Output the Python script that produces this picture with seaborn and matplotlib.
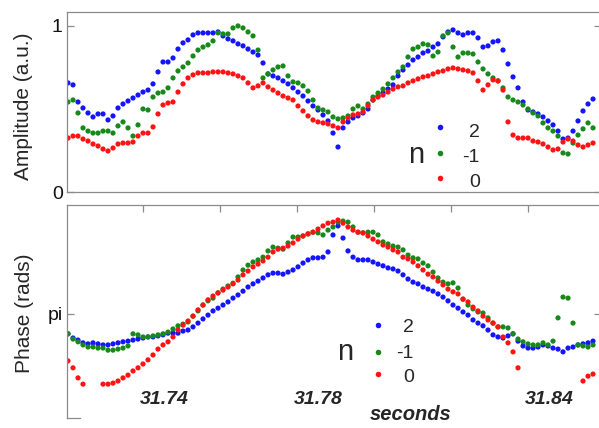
import numpy as np
import pandas as pd
import matplotlib
matplotlib.use("Agg")
import matplotlib.pyplot as plt
import seaborn as sns

sns.set_style("white")
plt.rcParams['font.family'] = ['Liberation Sans', 'DejaVu Sans']

# ---------------- data ----------------
# sampling grid (seconds)
time_s = np.round(31.71507 + 0.0012987 * np.arange(106), 6)

series_labels = ['2', '-1', '0']

amp_n2 = [0.657,0.645,0.542,0.506,0.476,0.452,0.470,0.470,0.434,0.458,
          0.506,0.530,0.548,0.566,0.584,0.602,0.614,0.651,0.723,0.783,
          0.783,0.807,0.861,0.898,0.916,0.946,0.958,0.958,0.958,0.958,
          0.964,0.940,0.922,0.910,0.892,0.880,0.861,0.843,0.825,0.777,
          0.711,0.699,0.687,0.669,0.651,0.627,0.602,0.578,0.548,0.518,
          0.494,0.464,0.428,0.355,0.271,0.386,0.422,0.446,0.458,0.476,
          0.500,0.554,0.578,0.596,0.620,0.645,0.699,0.735,0.765,0.795,
          0.813,0.837,0.849,0.873,0.892,0.934,0.964,0.976,0.958,0.946,
          0.958,0.958,0.928,0.873,0.880,0.904,0.910,0.855,0.771,0.693,
          0.627,0.542,0.494,0.482,0.470,0.452,0.428,0.404,0.367,0.319,
          0.325,0.367,0.428,0.488,0.530,0.560]

amp_nm1 = [0.542,0.554,0.476,0.386,0.367,0.355,0.355,0.367,0.367,0.355,
           0.398,0.422,0.386,0.337,0.404,0.500,0.494,0.572,0.596,0.602,
           0.627,0.687,0.729,0.753,0.777,0.819,0.855,0.873,0.886,0.910,
           0.958,0.952,0.952,0.988,1.000,0.988,0.964,0.940,0.855,0.687,
           0.711,0.735,0.753,0.759,0.699,0.663,0.657,0.639,0.608,0.554,
           0.506,0.494,0.482,0.452,0.440,0.446,0.458,0.500,0.518,0.500,
           0.530,0.572,0.596,0.620,0.651,0.687,0.723,0.753,0.813,0.861,
           0.873,0.892,0.886,0.819,0.843,0.940,0.958,0.873,0.813,0.837,
           0.837,0.831,0.783,0.741,0.711,0.687,0.669,0.627,0.572,0.554,
           0.542,0.524,0.500,0.476,0.458,0.416,0.386,0.367,0.337,0.235,
           0.229,0.295,0.343,0.380,0.416,0.386]

amp_n0 = [0.325,0.337,0.337,0.319,0.307,0.289,0.277,0.259,0.247,0.265,
          0.289,0.295,0.295,0.301,0.337,0.355,0.355,0.392,0.470,0.524,
          0.536,0.542,0.602,0.651,0.687,0.705,0.717,0.717,0.717,0.723,
          0.723,0.723,0.717,0.711,0.699,0.687,0.657,0.627,0.639,0.657,
          0.633,0.614,0.596,0.578,0.566,0.554,0.518,0.488,0.458,0.434,
          0.422,0.416,0.410,0.398,0.386,0.422,0.446,0.464,0.470,0.482,
          0.518,0.554,0.572,0.584,0.602,0.620,0.633,0.639,0.657,0.669,
          0.681,0.693,0.699,0.711,0.723,0.729,0.741,0.747,0.741,0.735,
          0.729,0.717,0.669,0.614,0.645,0.675,0.669,0.614,0.422,0.343,
          0.325,0.325,0.325,0.307,0.301,0.289,0.271,0.253,0.259,0.301,
          0.319,0.307,0.283,0.271,0.283,0.295]

nan = np.nan
phase_n2 = [2.57,2.45,2.39,2.31,2.28,2.31,2.28,2.25,2.25,2.28,
            2.31,2.34,2.36,2.39,2.42,2.45,2.48,2.48,2.51,2.54,
            2.59,2.59,2.59,2.65,2.68,2.77,2.88,3.00,3.11,3.23,
            3.31,3.40,3.49,3.60,3.69,3.80,3.92,4.01,4.09,4.18,
            4.27,4.32,4.32,4.29,4.35,4.41,4.50,4.61,4.70,4.76,
            4.76,4.78,4.93,5.42,5.68,5.33,4.96,4.78,4.70,4.70,
            4.70,4.64,4.58,4.53,4.47,4.44,4.38,4.27,4.15,4.06,
            4.01,3.92,3.86,3.80,3.72,3.63,3.52,3.40,3.31,3.20,
            3.11,2.97,2.88,2.80,2.68,2.54,2.48,2.45,2.51,2.57,
            2.36,2.22,2.16,2.16,2.19,2.25,2.22,2.16,2.13,2.05,
            2.16,2.19,2.25,2.28,2.31,2.36]

phase_nm1 = [2.57,2.42,2.34,2.25,2.19,2.19,2.16,2.16,2.10,2.10,
             2.13,2.16,2.22,2.57,2.54,2.48,2.48,2.51,2.54,2.57,
             2.62,2.71,2.80,2.85,2.91,3.08,3.23,3.40,3.52,3.60,
             3.75,3.86,3.95,4.03,4.21,4.41,4.55,4.64,4.70,4.78,
             4.96,5.07,5.04,5.01,5.19,5.36,5.36,5.39,5.45,5.50,
             5.48,5.42,5.56,5.65,5.79,5.82,5.79,5.65,5.50,5.48,
             5.50,5.50,5.42,5.22,5.16,5.10,5.07,4.99,4.84,4.76,
             4.73,4.61,4.53,4.35,4.18,4.06,4.01,4.04,3.89,3.57,
             3.40,3.29,3.20,3.17,3.03,2.88,2.77,2.77,2.74,2.57,
             2.42,2.34,2.28,2.25,2.25,2.31,2.25,2.36,3.03,3.63,
             3.60,2.88,2.25,2.22,2.19,2.25]

phase_n0 = [1.79,1.59,1.30,1.12,nan,nan,nan,1.12,1.12,1.15,
            1.21,1.30,1.38,1.50,1.59,1.70,1.82,1.96,2.13,2.25,
            2.34,2.48,2.68,2.82,2.94,3.08,3.26,3.40,3.55,3.66,
            3.75,3.83,3.92,4.01,4.12,4.27,4.38,4.50,4.58,4.67,
            4.78,4.93,5.01,5.04,5.10,5.19,5.30,5.39,5.45,5.50,
            5.59,5.68,5.76,5.79,5.85,5.76,5.65,5.56,5.50,5.48,
            5.39,5.30,5.22,5.13,5.07,4.99,4.93,4.78,4.73,4.64,
            4.53,4.41,4.29,4.21,4.09,3.98,3.86,3.78,3.72,3.57,
            3.49,3.34,3.23,3.08,2.97,2.88,2.77,2.48,2.31,2.05,
            1.59,nan,nan,nan,nan,nan,nan,nan,nan,nan,
            nan,nan,nan,1.21,1.35,1.41]

xtick_positions = [31.7346, 31.7546, 31.7746, 31.7946, 31.8146, 31.8346]
xlabel_values = [31.74, 31.78, 31.84]
xlabel_texts = ['31.74', '31.78', '31.84']

colors = {'2': '#1414ff', '-1': '#17891a', '0': '#ff1212'}

frames = []
for lab, a, p in zip(series_labels, [amp_n2, amp_nm1, amp_n0],
                     [phase_n2, phase_nm1, phase_n0]):
    frames.append(pd.DataFrame({'time': time_s, 'amplitude': a,
                                'phase': p, 'n': lab}))
df = pd.concat(frames, ignore_index=True)

# ---------------- figure ----------------
W, H = 599, 428
fig = plt.figure(figsize=(W / 100, H / 100), dpi=100)
ax1 = fig.add_axes([67 / W, 1 - 192 / H, 534 / W, 180 / H])
ax2 = fig.add_axes([67 / W, 1 - 418 / H, 534 / W, 213 / H])

gray = '#8a8a8a'
kw = dict(hue='n', hue_order=series_labels, palette=colors, s=14,
          linewidth=0, legend=False)
sns.scatterplot(data=df, x='time', y='amplitude', ax=ax1, **kw)
sns.scatterplot(data=df.dropna(subset=['phase']), x='time', y='phase',
                ax=ax2, **kw)

xlim = (31.71481, 31.85351)
for ax in (ax1, ax2):
    ax.set_xlim(*xlim)
    for sp in ax.spines.values():
        sp.set_color(gray)
        sp.set_linewidth(0.9)
    ax.set_xlabel('')

ax1.set_ylim(0, 1.084)
ax2.set_ylim(0.144, 2 * np.pi)

# top panel ticks
ax1.set_xticks([])
ax1.set_yticks([0, 1])
ax1.set_yticklabels(['0', '1'])
ax1.tick_params(axis='y', direction='in', length=5, width=0.9, color=gray,
                left=True, right=True, labelsize=14, pad=3,
                labelcolor='#111111')

# bottom panel ticks
ax2.set_xticks(xtick_positions)
ax2.tick_params(axis='x', direction='in', length=5, width=0.9, color=gray,
                top=True, bottom=False, labelbottom=False, labeltop=False)
ax2.set_yticks([np.pi])
ax2.set_yticklabels(['pi'])
ax2.tick_params(axis='y', direction='in', length=5, width=0.9, color=gray,
                left=True, right=True, labelsize=14, pad=3,
                labelcolor='#111111')
ax2.spines['bottom'].set_bounds(xlim[0], 31.7182)

# axis labels
ax1.set_ylabel('Amplitude (a.u.)', fontsize=15, va='center')
ax1.yaxis.set_label_coords(-0.0815, 0.478)
ax2.set_ylabel('Phase (rads)', fontsize=15, va='center')
ax2.yaxis.set_label_coords(-0.0787, 0.493)

xt = ax2.get_xaxis_transform()
for v, s in zip(xlabel_values, xlabel_texts):
    ax2.text(v, 0.0657, s, transform=xt, ha='center', va='baseline',
             fontsize=14, fontweight='bold', style='italic')
ax2.text(0.644, -0.01, 'seconds', transform=ax2.transAxes, ha='center',
         va='baseline', fontsize=14.5, fontweight='bold', style='italic')


def legend(ax, mx, mys, tx, tys, nx, ny):
    for lab, my, ty in zip(series_labels, mys, tys):
        ax.plot([mx], [my], 'o', color=colors[lab], ms=4.0, mec='none',
                transform=ax.transAxes, clip_on=False)
        ax.text(tx, ty, lab, transform=ax.transAxes, ha='right',
                va='baseline', fontsize=14)
    ax.text(nx, ny, 'n', transform=ax.transAxes, ha='center',
            va='baseline', fontsize=21)


legend(ax1, 0.6985, [0.361, 0.2167, 0.0778], 0.7734,
       [0.306, 0.164, 0.028], 0.6545, 0.161)
legend(ax2, 0.5824, [0.4366, 0.3099, 0.2066], 0.6498,
       [0.4038, 0.2817, 0.169], 0.5206, 0.2723)

fig.savefig('out.png', dpi=100)
